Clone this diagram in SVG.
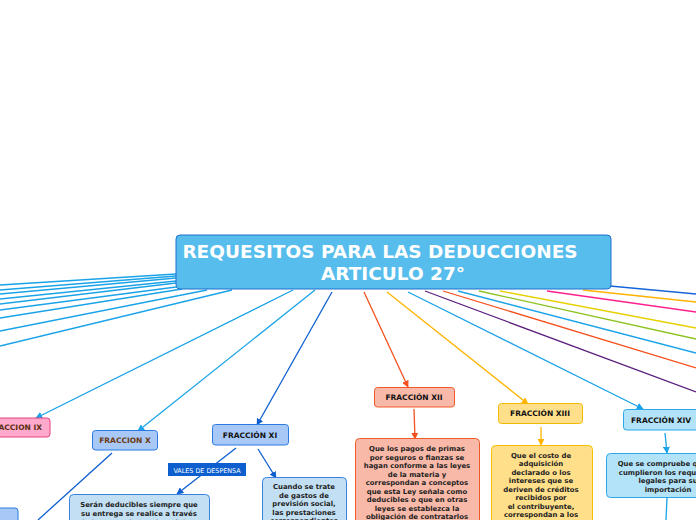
<svg xmlns="http://www.w3.org/2000/svg" width="696" height="520" viewBox="0 0 696 520">
<style>
.t{font-family:"DejaVu Sans",Verdana,sans-serif;font-weight:bold;text-anchor:middle}
.title{font-size:18.5px;fill:#fff}
.lab{font-size:7.5px;fill:#111}
.body{font-size:6.9px;fill:#222}
.ln{fill:none;stroke-width:1.3}
</style>
<defs>
<marker id="m-lb" viewBox="0 0 10 10" refX="9" refY="5" markerWidth="7" markerHeight="7" markerUnits="userSpaceOnUse" orient="auto"><path d="M0,0L10,5L0,10z" fill="#1aa3e8"/></marker>
<marker id="m-db" viewBox="0 0 10 10" refX="9" refY="5" markerWidth="7" markerHeight="7" markerUnits="userSpaceOnUse" orient="auto"><path d="M0,0L10,5L0,10z" fill="#0d5fd0"/></marker>
<marker id="m-or" viewBox="0 0 10 10" refX="9" refY="5" markerWidth="7" markerHeight="7" markerUnits="userSpaceOnUse" orient="auto"><path d="M0,0L10,5L0,10z" fill="#f4511e"/></marker>
<marker id="m-am" viewBox="0 0 10 10" refX="9" refY="5" markerWidth="7" markerHeight="7" markerUnits="userSpaceOnUse" orient="auto"><path d="M0,0L10,5L0,10z" fill="#ffb300"/></marker>
</defs>
<rect width="696" height="520" fill="#fff"/>
<g id="connectors">
<g stroke="#1aa3e8" class="ln">
<line x1="176" y1="274" x2="0" y2="285"/>
<line x1="176" y1="276" x2="0" y2="290"/>
<line x1="176" y1="278" x2="0" y2="294"/>
<line x1="176" y1="281" x2="0" y2="299"/>
<line x1="176" y1="283" x2="0" y2="304"/>
<line x1="176" y1="287" x2="0" y2="310"/>
<line x1="182" y1="289" x2="0" y2="318"/>
<line x1="207" y1="290" x2="0" y2="331"/>
<line x1="232" y1="290" x2="0" y2="346"/>
<line x1="293" y1="290" x2="36" y2="418" marker-end="url(#m-lb)"/>
<line x1="315" y1="290" x2="138" y2="431" marker-end="url(#m-lb)"/>
<line x1="408" y1="292" x2="643" y2="409" marker-end="url(#m-lb)"/>
<line x1="458" y1="291" x2="696" y2="353"/>
<line x1="665" y1="433" x2="667" y2="453" marker-end="url(#m-lb)"/>
<line x1="667" y1="498" x2="666" y2="520"/>
</g>
<line class="ln" stroke="#0d5fd0" x1="332" y1="292" x2="257" y2="425" marker-end="url(#m-db)"/>
<line class="ln" stroke="#0d5fd0" x1="236" y1="448" x2="177" y2="494" marker-end="url(#m-db)"/>
<line class="ln" stroke="#0d5fd0" x1="258" y1="449" x2="276" y2="478" marker-end="url(#m-db)"/>
<line class="ln" stroke="#0d5fd0" x1="112" y1="453" x2="38" y2="520"/>
<line class="ln" stroke="#f4511e" x1="364" y1="292" x2="408" y2="387" marker-end="url(#m-or)"/>
<line class="ln" stroke="#f4511e" x1="414" y1="409" x2="415" y2="439" marker-end="url(#m-or)"/>
<line class="ln" stroke="#ffb300" x1="387" y1="292" x2="528" y2="404" marker-end="url(#m-am)"/>
<line class="ln" stroke="#ffb300" x1="541" y1="427" x2="541" y2="445" marker-end="url(#m-am)"/>
<line class="ln" stroke="#5b1f7d" stroke-width="1.6" x1="425" y1="291" x2="696" y2="392"/>
<line class="ln" stroke="#f4511e" x1="443" y1="291" x2="696" y2="368"/>
<line class="ln" stroke="#8dc21f" x1="479" y1="291" x2="696" y2="339"/>
<line class="ln" stroke="#e8d000" x1="500" y1="291" x2="696" y2="328"/>
<line class="ln" stroke="#ff1f8e" x1="547" y1="291" x2="696" y2="312"/>
<line class="ln" stroke="#ffb300" x1="583" y1="290" x2="696" y2="302"/>
<line class="ln" stroke="#1565d8" x1="610" y1="286" x2="696" y2="294"/>
</g>
<g id="title">
<rect x="176" y="235" width="435" height="54" rx="4" fill="#57bdec" stroke="#1f6fd0" stroke-width="1"/>
<text class="t title" x="380" y="258">REQUESITOS PARA LAS DEDUCCIONES</text>
<text class="t title" x="393" y="280">ARTICULO 27°</text>
</g>
<g id="fraccion-ix">
<rect x="-25" y="418" width="75" height="19" rx="3" fill="#ffa9cc" stroke="#e8407f" stroke-width="1"/>
<text class="t lab" x="42" y="430" style="text-anchor:end;fill:#5a2e10">FRACCION IX</text>
</g>
<g id="fraccion-x">
<rect x="92.5" y="430.5" width="65" height="19.5" rx="3" fill="#a8c8f8" stroke="#2a7ae0" stroke-width="1"/>
<text class="t lab" x="125" y="443" style="fill:#6b3a10">FRACCION X</text>
</g>
<g id="fraccion-x-child">
<rect x="-10" y="508" width="28" height="20" rx="3" fill="#a8c8f8" stroke="#2a7ae0" stroke-width="1"/>
</g>
<g id="fraccion-xi">
<rect x="212.5" y="424.5" width="76" height="20.5" rx="3" fill="#a8c8f8" stroke="#2a7ae0" stroke-width="1"/>
<text class="t lab" x="250" y="438">FRACCIÓN XI</text>
</g>
<g id="vales">
<rect x="168" y="463" width="78" height="13" fill="#0d5fd0"/>
<text x="207" y="472.5" style="font-family:'DejaVu Sans',Verdana,sans-serif;font-size:6.4px;fill:#fff;text-anchor:middle">VALES DE DESPENSA</text>
</g>
<g id="xi-vales">
<rect x="69.5" y="494.5" width="140" height="36" rx="4" fill="#c2dff3" stroke="#3b82e0" stroke-width="1"/>
<text class="t body" x="139" y="507">Serán deducibles siempre que</text>
<text class="t body" x="139" y="516">su entrega se realice a través</text>
<text class="t body" x="139" y="525">de los monederos electrónicos</text>
</g>
<g id="xi-prevision">
<rect x="262.5" y="477.5" width="84" height="55" rx="4" fill="#c2dff3" stroke="#3b82e0" stroke-width="1"/>
<text class="t body" x="304" y="489">Cuando se trate</text>
<text class="t body" x="304" y="497.5">de gastos de</text>
<text class="t body" x="304" y="506">previsión social,</text>
<text class="t body" x="304" y="514.5">las prestaciones</text>
<text class="t body" x="304" y="523">correspondientes</text>
</g>
<g id="fraccion-xii">
<rect x="374.5" y="387.5" width="80" height="19.5" rx="3" fill="#f9b9a8" stroke="#f05a28" stroke-width="1"/>
<text class="t lab" x="414" y="400">FRACCIÓN XII</text>
</g>
<g id="xii-body">
<rect x="355.5" y="438.5" width="124" height="95" rx="4" fill="#f9b9a8" stroke="#f05a28" stroke-width="1"/>
<text class="t body" x="417" y="451">Que los pagos de primas</text>
<text class="t body" x="417" y="459.5">por seguros o fianzas se</text>
<text class="t body" x="417" y="468">hagan conforme a las leyes</text>
<text class="t body" x="417" y="476.5">de la materia y</text>
<text class="t body" x="417" y="485">correspondan a conceptos</text>
<text class="t body" x="417" y="493.5">que esta Ley señala como</text>
<text class="t body" x="417" y="502">deducibles o que en otras</text>
<text class="t body" x="417" y="510.5">leyes se establezca la</text>
<text class="t body" x="417" y="519">obligación de contratarlos</text>
</g>
<g id="fraccion-xiii">
<rect x="498.5" y="403.5" width="84" height="20" rx="3" fill="#ffdf8a" stroke="#f5b800" stroke-width="1"/>
<text class="t lab" x="540" y="416">FRACCIÓN XIII</text>
</g>
<g id="xiii-body">
<rect x="491.5" y="445.5" width="101" height="90" rx="4" fill="#ffdf8a" stroke="#f5c000" stroke-width="1"/>
<text class="t body" x="541" y="457.5">Que el costo de</text>
<text class="t body" x="541" y="466">adquisición</text>
<text class="t body" x="541" y="474.5">declarado o los</text>
<text class="t body" x="541" y="483">intereses que se</text>
<text class="t body" x="541" y="491.5">deriven de créditos</text>
<text class="t body" x="541" y="500">recibidos por</text>
<text class="t body" x="541" y="508.5">el contribuyente,</text>
<text class="t body" x="541" y="517">correspondan a los</text>
</g>
<g id="fraccion-xiv">
<rect x="623.5" y="409.5" width="80" height="20.5" rx="3" fill="#b3e3f8" stroke="#2aa8e8" stroke-width="1"/>
<text class="t lab" x="631" y="422.5" style="text-anchor:start">FRACCIÓN XIV</text>
</g>
<g id="xiv-body">
<rect x="606.5" y="453.5" width="100" height="44" rx="4" fill="#b3e3f8" stroke="#2aa8e8" stroke-width="1"/>
<text class="t body" x="668" y="466">Que se compruebe que se</text>
<text class="t body" x="668" y="474.5">cumplieron los requisitos</text>
<text class="t body" x="668" y="483">legales para su</text>
<text class="t body" x="668" y="491.5">importación</text>
</g>
</svg>
